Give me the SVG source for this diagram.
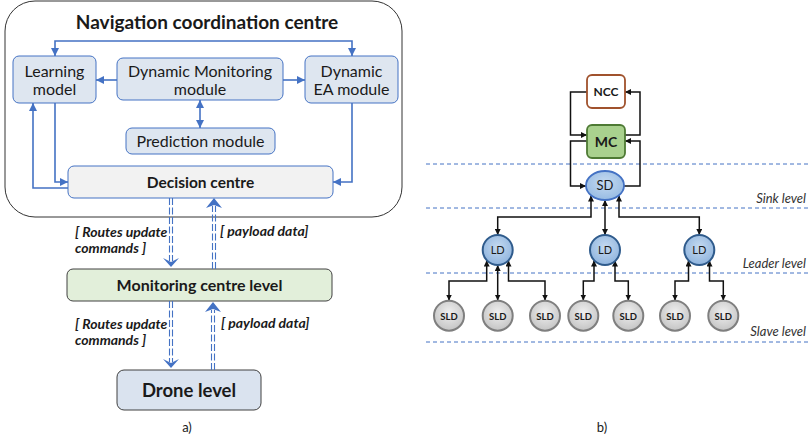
<svg xmlns="http://www.w3.org/2000/svg" width="809" height="440" viewBox="0 0 809 440">
<style>
text{font-family:Lato,"Liberation Sans",sans-serif;fill:#1a1a1a}
.mod{fill:#dee6f0;stroke:#4472c4;stroke-width:1}
.bl{fill:none;stroke:#4472c4;stroke-width:1.6}
.dd{fill:none;stroke:#4472c4;stroke-width:1.1;stroke-dasharray:7 2.5}
.ah{fill:#4472c4}
.bk{fill:none;stroke:#111;stroke-width:1.5}
.lvl{fill:none;stroke:#4472c4;stroke-width:1;stroke-dasharray:4 3}
.m{font-size:16px;text-anchor:middle}
.bi{font-size:14px;font-weight:bold;font-style:italic}
.lv{font-size:13px;font-style:italic;text-anchor:end;fill:#333}
.ld{fill:url(#gLD);stroke:#2f5b8c;stroke-width:2}
.sld{fill:url(#gSLD);stroke:#7f7f7f;stroke-width:2}
</style>
<defs>
<marker id="ab" viewBox="0 0 10 10" refX="10" refY="5" markerWidth="8" markerHeight="8" markerUnits="userSpaceOnUse" orient="auto-start-reverse"><path d="M0,0L10,5L0,10z" fill="#4472c4"/></marker>
<marker id="ak" viewBox="0 0 10 10" refX="10" refY="5" markerWidth="6" markerHeight="6" markerUnits="userSpaceOnUse" orient="auto-start-reverse"><path d="M0,0L10,5L0,10z" fill="#111"/></marker>
<radialGradient id="gLD" cx="0.5" cy="0.4" r="0.6"><stop offset="0" stop-color="#c5daf0"/><stop offset="1" stop-color="#8fb4de"/></radialGradient>
<radialGradient id="gSLD" cx="0.5" cy="0.4" r="0.6"><stop offset="0" stop-color="#f0f0f0"/><stop offset="1" stop-color="#c4c4c4"/></radialGradient>
<radialGradient id="gSD" cx="0.5" cy="0.4" r="0.6"><stop offset="0" stop-color="#c5daf0"/><stop offset="1" stop-color="#97bbe3"/></radialGradient>
</defs>

<!-- Panel a -->
<g id="ncc-container">
<rect x="5" y="1" width="397" height="216" rx="30" fill="#fff" stroke="#333" stroke-width="1"/>
<text x="207" y="29" text-anchor="middle" font-size="19" font-weight="bold">Navigation coordination centre</text>
</g>
<g id="learning-model"><rect class="mod" x="13" y="56" width="83" height="47" rx="6"/><text class="m" x="54.5" y="77">Learning</text><text class="m" x="54.5" y="95">model</text></g>
<g id="dynamic-monitoring"><rect class="mod" x="117" y="58" width="166" height="42" rx="6"/><text class="m" x="200" y="77">Dynamic Monitoring</text><text class="m" x="200" y="95">module</text></g>
<g id="dynamic-ea"><rect class="mod" x="305" y="56" width="93" height="47" rx="6"/><text class="m" x="351.5" y="77">Dynamic</text><text class="m" x="351.5" y="95">EA module</text></g>
<g id="prediction"><rect class="mod" x="126" y="128" width="149" height="26" rx="6"/><text class="m" x="200.5" y="147">Prediction module</text></g>
<g id="decision"><rect x="68" y="166" width="265" height="32" rx="6" fill="#f2f2f2" stroke="#4472c4" stroke-width="1"/><text x="200.5" y="188" text-anchor="middle" font-size="15.5" font-weight="bold">Decision centre</text></g>
<g id="monitoring-level"><rect x="67" y="269" width="265" height="32" rx="6" fill="#e2efda" stroke="#404040" stroke-width="1"/><text x="199.5" y="291" text-anchor="middle" font-size="16" font-weight="bold">Monitoring centre level</text></g>
<g id="drone-level"><rect x="117" y="370" width="144" height="40" rx="7" fill="#dae3ef" stroke="#404040" stroke-width="1"/><text x="189" y="397" text-anchor="middle" font-size="18.5" font-weight="bold">Drone level</text></g>

<g id="connectors-a">
<path class="bl" d="M55,56V41H352V56" marker-start="url(#ab)" marker-end="url(#ab)"/>
<path class="bl" d="M117,80H96" marker-end="url(#ab)"/>
<path class="bl" d="M283,80H305" marker-end="url(#ab)"/>
<path class="bl" d="M200,100V128" marker-start="url(#ab)" marker-end="url(#ab)"/>
<path class="bl" d="M55,103V182H68" marker-end="url(#ab)"/>
<path class="bl" d="M68,188H33V103" marker-end="url(#ab)"/>
<path class="bl" d="M352,103V182H333" marker-end="url(#ab)"/>
<path class="dd" d="M169.5,198V261M172.5,198V261"/>
<path class="ah" d="M163,258L171,262L179,258L171,267z"/>
<path class="dd" d="M212.5,269V206M215.5,269V206"/>
<path class="ah" d="M206,208L214,205L222,208L214,198z"/>
<path class="dd" d="M169.5,301V362M172.5,301V362"/>
<path class="ah" d="M163,359L171,363L179,359L171,368z"/>
<path class="dd" d="M211.5,370V310M214.5,370V310"/>
<path class="ah" d="M205,312L213,309L221,312L213,302z"/>
</g>
<g id="labels-a">
<text class="bi" x="75" y="237">[ Routes update</text>
<text class="bi" x="75" y="253">commands ]</text>
<text class="bi" x="220" y="236">[ payload data]</text>
<text class="bi" x="75" y="329">[ Routes update</text>
<text class="bi" x="75" y="345">commands ]</text>
<text class="bi" x="221" y="328">[ payload data]</text>
<text x="187" y="432" text-anchor="middle" font-size="13">a)</text>
</g>

<!-- Panel b -->
<g id="levels">
<path class="lvl" d="M426,164H809M426,208H809M426,273H809M426,342H809"/>
<text class="lv" x="806" y="203">Sink level</text>
<text class="lv" x="806" y="268">Leader level</text>
<text class="lv" x="806" y="336">Slave level</text>
</g>
<g id="connectors-b">
<path class="bk" d="M587,92H570.5V135H587" marker-end="url(#ak)"/>
<path class="bk" d="M625,135H640V92H625" marker-end="url(#ak)"/>
<path class="bk" d="M587,141H570.5V186H586" marker-end="url(#ak)"/>
<path class="bk" d="M624,186H640V141H625" marker-end="url(#ak)"/>
<path class="bk" d="M591,195.5V217H497.7V235" marker-start="url(#ak)" marker-end="url(#ak)"/>
<path class="bk" d="M605,200V235" marker-start="url(#ak)" marker-end="url(#ak)"/>
<path class="bk" d="M619,195.5V217H699.3V235" marker-start="url(#ak)" marker-end="url(#ak)"/>
<path class="bk" d="M486.7,260.5V281H449V300.5" marker-start="url(#ak)" marker-end="url(#ak)"/>
<path class="bk" d="M497.7,265V300.5" marker-start="url(#ak)" marker-end="url(#ak)"/>
<path class="bk" d="M508.5,260.5V281H545V300.5" marker-start="url(#ak)" marker-end="url(#ak)"/>
<path class="bk" d="M594,260.5V281H583.3V300.5" marker-start="url(#ak)" marker-end="url(#ak)"/>
<path class="bk" d="M615,260.5V281H628.3V300.5" marker-start="url(#ak)" marker-end="url(#ak)"/>
<path class="bk" d="M688.5,260.5V281H675V300.5" marker-start="url(#ak)" marker-end="url(#ak)"/>
<path class="bk" d="M709.5,260.5V281H723.3V300.5" marker-start="url(#ak)" marker-end="url(#ak)"/>
</g>
<g id="NCC"><rect x="587" y="75" width="38" height="33" rx="5" fill="#fff" stroke="#a0522d" stroke-width="1.8"/><text x="606" y="95.5" text-anchor="middle" font-size="12" font-weight="bold">NCC</text></g>
<g id="MC"><rect x="587" y="125" width="38" height="33" rx="5" fill="#a9d18e" stroke="#4e7a34" stroke-width="1.8"/><text x="606" y="146.5" text-anchor="middle" font-size="14" font-weight="bold">MC</text></g>
<g id="SD"><ellipse cx="605" cy="185.5" rx="19" ry="14.5" fill="url(#gSD)" stroke="#4472c4" stroke-width="1.8"/><text x="605" y="190" text-anchor="middle" font-size="13">SD</text></g>
<g id="LD1"><circle class="ld" cx="497.7" cy="250" r="15"/><text x="497.7" y="254" text-anchor="middle" font-size="11">LD</text></g>
<g id="LD2"><circle class="ld" cx="605" cy="250" r="15"/><text x="605" y="254" text-anchor="middle" font-size="11">LD</text></g>
<g id="LD3"><circle class="ld" cx="699.3" cy="250" r="15"/><text x="699.3" y="254" text-anchor="middle" font-size="11">LD</text></g>
<g id="SLD1"><circle class="sld" cx="449" cy="315.7" r="15"/><text x="449" y="319.5" text-anchor="middle" font-size="9.5" font-weight="bold">SLD</text></g>
<g id="SLD2"><circle class="sld" cx="497.7" cy="315.7" r="15"/><text x="497.7" y="319.5" text-anchor="middle" font-size="9.5" font-weight="bold">SLD</text></g>
<g id="SLD3"><circle class="sld" cx="545" cy="315.7" r="15"/><text x="545" y="319.5" text-anchor="middle" font-size="9.5" font-weight="bold">SLD</text></g>
<g id="SLD4"><circle class="sld" cx="583.3" cy="315.7" r="15"/><text x="583.3" y="319.5" text-anchor="middle" font-size="9.5" font-weight="bold">SLD</text></g>
<g id="SLD5"><circle class="sld" cx="628.3" cy="315.7" r="15"/><text x="628.3" y="319.5" text-anchor="middle" font-size="9.5" font-weight="bold">SLD</text></g>
<g id="SLD6"><circle class="sld" cx="675" cy="315.7" r="15"/><text x="675" y="319.5" text-anchor="middle" font-size="9.5" font-weight="bold">SLD</text></g>
<g id="SLD7"><circle class="sld" cx="723.3" cy="315.7" r="15"/><text x="723.3" y="319.5" text-anchor="middle" font-size="9.5" font-weight="bold">SLD</text></g>
<text x="602" y="432" text-anchor="middle" font-size="13">b)</text>
</svg>
